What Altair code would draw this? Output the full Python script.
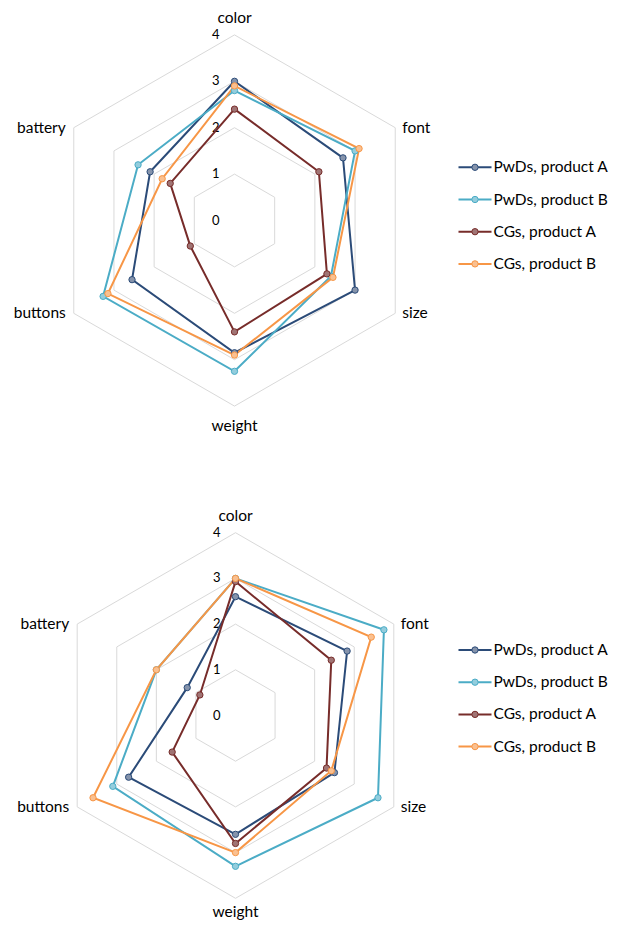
import altair as alt
import pandas as pd

categories = ["color", "font", "size", "weight", "buttons", "battery"]
series = ["PwDs, product A", "PwDs, product B", "CGs, product A", "CGs, product B"]
line_colors = ["#2B4B78", "#4BACC6", "#772C2A", "#F79646"]
marker_fills = ["#8593AB", "#93CDDD", "#A07474", "#FAC090"]

# top chart values (order: color, font, size, weight, buttons, battery)
top_pwds_a = [3.0, 2.7, 3.0, 2.85, 2.55, 2.1]
top_pwds_b = [2.8, 3.0, 2.4, 3.25, 3.27, 2.4]
top_cgs_a = [2.4, 2.1, 2.3, 2.4, 1.1, 1.6]
top_cgs_b = [2.9, 3.1, 2.45, 2.9, 3.15, 1.8]

# bottom chart values
bot_pwds_a = [2.6, 2.82, 2.5, 2.6, 2.7, 1.22]
bot_pwds_b = [3.0, 3.75, 3.6, 3.3, 3.1, 2.0]
bot_cgs_a = [2.93, 2.42, 2.3, 2.8, 1.6, 0.9]
bot_cgs_b = [3.0, 3.43, 2.42, 3.0, 3.6, 2.0]

grid_levels = [1, 2, 3, 4]
tick_labels = ["0", "1", "2", "3", "4"]

FONT = "Lato"
W = 599
# legend layout (plot pixels): line start/end, text start, row step
LEG_X1, LEG_X2, LEG_TX = 450.5, 483.5, 485.5
LEG_STEP = 32.2


def radar(vals, cx, cy, u, H, leg_y0, weight_dy):
    rows = []
    for s, v in zip(series, vals):
        for i in range(7):
            rows.append({"series": s, "cat": categories[i % 6], "idx": i, "value": v[i % 6]})
    df = pd.DataFrame(rows)

    grid = pd.DataFrame([{"level": lv, "idx": i} for lv in grid_levels for i in range(7)])
    ticks = pd.DataFrame({"label": tick_labels, "level": [int(t) for t in tick_labels]})
    labels = pd.DataFrame({"cat": categories, "idx": list(range(6))})
    legend_df = pd.DataFrame({"series": series, "r": list(range(len(series)))})

    xs = alt.Scale(domain=[-cx / u, (W - cx) / u], nice=False, zero=False)
    ys = alt.Scale(domain=[-(H - cy) / u, cy / u], nice=False, zero=False)
    X = alt.X("x:Q", scale=xs, axis=None)
    Y = alt.Y("y:Q", scale=ys, axis=None)

    grid_layer = alt.Chart(grid).transform_calculate(
        x="datum.level*sin(datum.idx*PI/3)", y="datum.level*cos(datum.idx*PI/3)"
    ).mark_line(color="#D9D9D9", strokeWidth=1).encode(
        x=X, y=Y, detail="level:N", order="idx:Q"
    )

    tick_layer = alt.Chart(ticks).transform_calculate(
        x="0", y="datum.level"
    ).mark_text(align="right", baseline="middle", dx=-15, font=FONT, fontSize=13, color="#000000").encode(
        x=X, y=Y, text="label:N"
    )

    base_lab = alt.Chart(labels).transform_calculate(
        x="4*sin(datum.idx*PI/3)", y="4*cos(datum.idx*PI/3)"
    )
    lab_kw = dict(font=FONT, fontSize=15.5, color="#000000", baseline="middle")
    lab_top = base_lab.transform_filter("datum.cat=='color'").mark_text(align="center", dy=-17, **lab_kw).encode(x=X, y=Y, text="cat:N")
    lab_bot = base_lab.transform_filter("datum.cat=='weight'").mark_text(align="center", dy=weight_dy, **lab_kw).encode(x=X, y=Y, text="cat:N")
    lab_right = base_lab.transform_filter("datum.idx==1||datum.idx==2").mark_text(align="left", dx=7, **lab_kw).encode(x=X, y=Y, text="cat:N")
    lab_left = base_lab.transform_filter("datum.idx==4||datum.idx==5").mark_text(align="right", dx=-8, **lab_kw).encode(x=X, y=Y, text="cat:N")

    base = alt.Chart(df).transform_calculate(
        x="datum.value*sin(datum.idx*PI/3)", y="datum.value*cos(datum.idx*PI/3)"
    )
    stroke_scale = alt.Scale(domain=series, range=line_colors)
    fill_scale = alt.Scale(domain=series, range=marker_fills)
    lines = base.mark_line(strokeWidth=2).encode(
        x=X, y=Y, order="idx:Q",
        stroke=alt.Stroke("series:N", scale=stroke_scale, legend=None),
        detail="series:N",
    )
    points = base.transform_filter("datum.idx<6").mark_point(
        shape="circle", filled=True, size=40, strokeWidth=1, opacity=1
    ).encode(
        x=X, y=Y,
        stroke=alt.Stroke("series:N", scale=stroke_scale, legend=None),
        fill=alt.Fill("series:N", scale=fill_scale, legend=None),
    )

    # legend drawn with marks, placed through the same scales
    leg_base = alt.Chart(legend_df).transform_calculate(
        ly=f"({cy} - ({leg_y0} + datum.r*{LEG_STEP}))/{u}",
        lx1=f"({LEG_X1} - {cx})/{u}",
        lx2=f"({LEG_X2} - {cx})/{u}",
        lxc=f"(({LEG_X1}+{LEG_X2})/2 - {cx})/{u}",
        ltx=f"({LEG_TX} - {cx})/{u}",
    )
    LY = alt.Y("ly:Q", scale=ys, axis=None)
    leg_line = leg_base.mark_rule(strokeWidth=2).encode(
        x=alt.X("lx1:Q", scale=xs, axis=None), x2="lx2:Q", y=LY,
        stroke=alt.Stroke("series:N", scale=stroke_scale, legend=None),
    )
    leg_pt = leg_base.mark_point(shape="circle", filled=True, size=40, strokeWidth=1, opacity=1).encode(
        x=alt.X("lxc:Q", scale=xs, axis=None), y=LY,
        stroke=alt.Stroke("series:N", scale=stroke_scale, legend=None),
        fill=alt.Fill("series:N", scale=fill_scale, legend=None),
    )
    leg_txt = leg_base.mark_text(align="left", baseline="middle", font=FONT, fontSize=15.5, color="#000000").encode(
        x=alt.X("ltx:Q", scale=xs, axis=None), y=LY, text="series:N"
    )

    return alt.layer(
        grid_layer, tick_layer, lab_top, lab_bot, lab_right, lab_left, lines, points,
        leg_line, leg_pt, leg_txt
    ).properties(width=W, height=H)


top = radar([top_pwds_a, top_pwds_b, top_cgs_a, top_cgs_b], cx=226.5, cy=212.5, u=46.4, H=472,
            leg_y0=159.3, weight_dy=19.5)
bot = radar([bot_pwds_a, bot_pwds_b, bot_cgs_a, bot_cgs_b], cx=227.5, cy=225.5, u=45.7, H=431,
            leg_y0=160.0, weight_dy=13.5)

chart = alt.vconcat(top, bot, spacing=10, bounds="flush").resolve_scale(
    x="independent", y="independent", stroke="independent", fill="independent"
).properties(padding=0, background="white").configure_view(stroke=None)

chart.save("out.html", embed_options={"renderer": "svg", "actions": False})
